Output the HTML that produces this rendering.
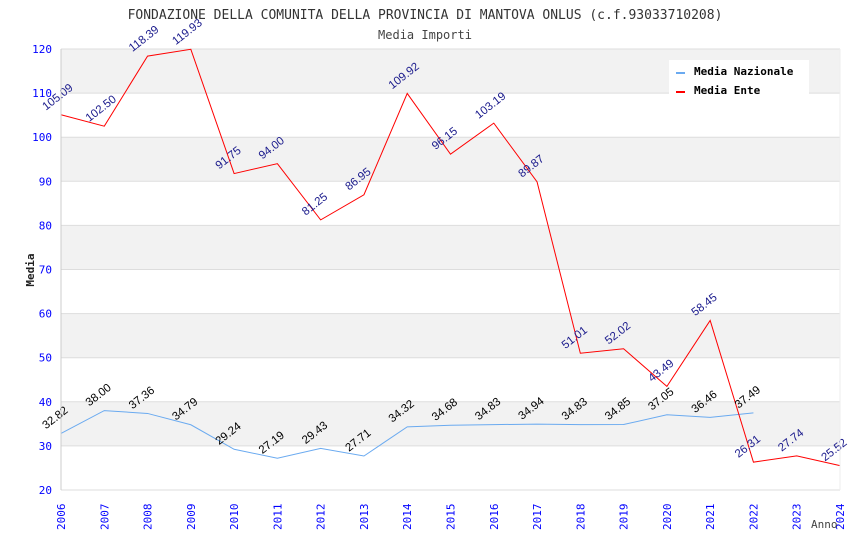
<!DOCTYPE html>
<html><head><meta charset="utf-8"><style>
body{margin:0;background:#fff;}
svg{display:block;font-family:"DejaVu Sans Mono","Liberation Mono",monospace;}
</style></head><body>
<svg id="c" width="850" height="550">
<text x="425" y="19" text-anchor="middle" font-size="13" fill="#333">FONDAZIONE DELLA COMUNITA DELLA PROVINCIA DI MANTOVA ONLUS (c.f.93033710208)</text>
<text x="425" y="39" text-anchor="middle" font-size="12" fill="#444">Media Importi</text>
<g id="bands"></g><g id="grid"></g><g id="series"></g><g id="labels"></g><g id="axes"></g>
<g>
<rect x="669" y="60" width="140" height="38" fill="#fff"/>
<rect x="676" y="72" width="9" height="2" fill="#6aaaf0"/>
<text x="694" y="75" font-size="11" font-weight="bold" fill="#000">Media Nazionale</text>
<rect x="676" y="91" width="9" height="2" fill="#ff0000"/>
<text x="694" y="94" font-size="11" font-weight="bold" fill="#000">Media Ente</text>
</g>
<text x="0" y="0" transform="translate(34,270) rotate(-90)" text-anchor="middle" font-size="11" font-weight="bold" fill="#222">Media</text>
<text x="811" y="528" font-size="11" fill="#444">Anno</text>
</svg>
<script>
const years=[2006,2007,2008,2009,2010,2011,2012,2013,2014,2015,2016,2017,2018,2019,2020,2021,2022,2023,2024];
const nazionale=[32.82,38.00,37.36,34.79,29.24,27.19,29.43,27.71,34.32,34.68,34.83,34.94,34.83,34.85,37.05,36.46,37.49];
const ente=[105.09,102.50,118.39,119.93,91.75,94.00,81.25,86.95,109.92,96.15,103.19,89.87,51.01,52.02,43.49,58.45,26.31,27.74,25.52];
const yTicks=[20,30,40,50,60,70,80,90,100,110,120];
const L=61,R=840,T=49,B=490,ymin=20,ymax=120;
const NS="http://www.w3.org/2000/svg";
const xs=i=>L+(R-L)*i/(years.length-1);
const ys=v=>B-(v-ymin)/(ymax-ymin)*(B-T);
function mk(tag,attrs,parent,txt){const e=document.createElementNS(NS,tag);for(const k in attrs)e.setAttribute(k,attrs[k]);if(txt!==undefined)e.textContent=txt;document.getElementById(parent).appendChild(e);return e;}
for(let i=0;i<yTicks.length-1;i++){
  const a=yTicks[i],b=yTicks[i+1];
  const r=mk('rect',{x:L,y:ys(b),width:R-L,height:ys(a)-ys(b),fill:(i%2===1)?'#f2f2f2':'#fff'},'bands');
  
  
}
yTicks.forEach(v=>{
  const l=mk('line',{x1:L,x2:R,y1:ys(v),y2:ys(v),stroke:'#ddd','stroke-width':1},'grid');
  
  
  const t=mk('text',{x:L-9,y:ys(v)+4,'text-anchor':'end','font-size':11,fill:'#00f'},'axes',String(v));
  
  
});
mk('line',{x1:L,x2:L,y1:T,y2:B,stroke:'#ccc'},'axes');
mk('line',{x1:R,x2:R,y1:T,y2:B,stroke:'#eee'},'axes');
years.forEach((y,i)=>{
  const t=mk('text',{x:0,y:0,transform:`translate(${xs(i)+4},${B+40}) rotate(-90)`,'font-size':11,fill:'#00f'},'axes',String(y));
  
  
});
function series(arr,color,name,lblColor){
  const p=mk('polyline',{points:arr.map((v,i)=>xs(i)+','+ys(v)).join(' '),fill:'none',stroke:color,'stroke-width':1},'series');
  
  
  arr.forEach((v,i)=>{
    const t=mk('text',{x:0,y:0,transform:`translate(${xs(i)-15},${ys(v)-4}) rotate(-38)`,'font-size':11.5,fill:lblColor,'font-family':'Liberation Sans, sans-serif'},'labels',v.toFixed(2));
    
    
  });
}
series(nazionale,'#6aaaf0','line-media-nazionale','#000');
series(ente,'#ff0000','line-media-ente','#1a1a8c');
</script>
</body></html>
